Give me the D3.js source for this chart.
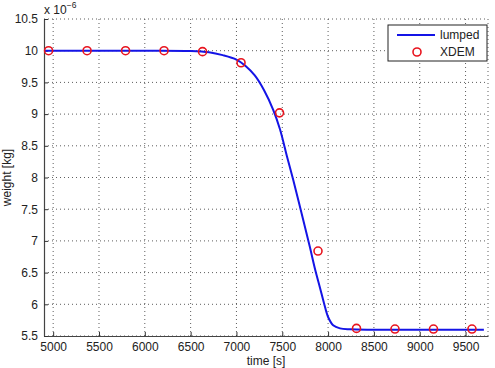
<!DOCTYPE html>
<html>
<head>
<meta charset="utf-8">
<script src="https://cdn.jsdelivr.net/npm/d3@7"></script>
<style>
  body { margin: 0; background: #fff; }
  svg { display: block; font-family: "Liberation Sans", Arial, sans-serif; }
  .tick text { font-size: 12px; fill: #222; }
</style>
</head>
<body>
<div id="chart"></div>
<script>
// XDEM samples (time [s], weight [1e-6 kg])
const xdemTime = [4950, 5370, 5790, 6210, 6630, 7050, 7470, 7890, 8310, 8730, 9150, 9570];
const xdemWeight = [10.0, 10.0, 10.0, 10.0, 9.985, 9.81, 9.02, 6.84, 5.62, 5.61, 5.61, 5.61];

// lumped model curve
const lumpedTime = [4900, 5500, 6000, 6500, 6700, 6850, 7000, 7100, 7200, 7300, 7400, 7475, 7550, 7620, 7710, 7800, 7860, 7910, 7955, 8000, 8055, 8130, 8240, 8500, 9000, 9700];
const lumpedWeight = [10.0, 10.0, 10.0, 9.995, 9.975, 9.93, 9.86, 9.76, 9.61, 9.38, 9.07, 8.76, 8.34, 7.96, 7.44, 6.91, 6.54, 6.27, 6.02, 5.8, 5.67, 5.62, 5.605, 5.6, 5.6, 5.6];

const xTicks = [5000, 5500, 6000, 6500, 7000, 7500, 8000, 8500, 9000, 9500];
const yTicks = [5.5, 6, 6.5, 7, 7.5, 8, 8.5, 9, 9.5, 10, 10.5];

const margin = { top: 19, right: 7, bottom: 32, left: 44 };
const W = 495, H = 368;
const width = W - margin.left - margin.right;
const height = H - margin.top - margin.bottom;

const svg = d3.select('#chart').append('svg')
    .attr('width', W)
    .attr('height', H);

const g = svg.append('g')
    .attr('transform', `translate(${margin.left}, ${margin.top})`);

const x = d3.scaleLinear().domain([4900, 9745]).range([0, width]);
const y = d3.scaleLinear().domain([5.5, 10.5]).range([height, 0]);

// grid
g.append('g').selectAll('line')
    .data(xTicks).enter().append('line')
    .attr('x1', d => x(d)).attr('x2', d => x(d))
    .attr('y1', 0).attr('y2', height)
    .attr('stroke', '#333').attr('stroke-dasharray', '1,3').attr('stroke-width', 0.8);
g.append('g').selectAll('line')
    .data(yTicks).enter().append('line')
    .attr('x1', 0).attr('x2', width)
    .attr('y1', d => y(d)).attr('y2', d => y(d))
    .attr('stroke', '#333').attr('stroke-dasharray', '1,3').attr('stroke-width', 0.8);
// right edge dotted
g.append('line')
    .attr('x1', width).attr('x2', width).attr('y1', 0).attr('y2', height)
    .attr('stroke', '#333').attr('stroke-dasharray', '1,3').attr('stroke-width', 0.8);

// axes (ticks inward)
const xAxis = g.append('g')
    .attr('transform', `translate(0, ${height})`)
    .call(d3.axisBottom(x).tickValues(xTicks).tickSizeInner(-4).tickSizeOuter(0).tickPadding(6).tickFormat(d3.format('d')));
const yAxis = g.append('g')
    .call(d3.axisLeft(y).tickValues(yTicks).tickSizeInner(-4).tickSizeOuter(0).tickPadding(6).tickFormat(d => d3.format('')(d)));
[xAxis, yAxis].forEach(a => {
    a.select('.domain').attr('stroke', '#444').attr('stroke-width', 1.2);
    a.selectAll('.tick line').attr('stroke', '#333');
});

// lumped curve
const line = d3.line()
    .x((d, i) => x(lumpedTime[i]))
    .y(d => y(d))
    .curve(d3.curveCatmullRom.alpha(0.5));
g.append('path')
    .datum(lumpedWeight)
    .attr('d', line)
    .attr('fill', 'none')
    .attr('stroke', '#1414e6')
    .attr('stroke-width', 2);

// XDEM markers
g.selectAll('.xdem')
    .data(xdemWeight).enter().append('circle')
    .attr('class', 'xdem')
    .attr('cx', (d, i) => x(xdemTime[i]))
    .attr('cy', d => y(d))
    .attr('r', 4)
    .attr('fill', 'none')
    .attr('stroke', '#e8141e')
    .attr('stroke-width', 1.6);

// axis labels
svg.append('text')
    .attr('x', margin.left + width / 2)
    .attr('y', 365)
    .attr('text-anchor', 'middle')
    .attr('font-size', 12)
    .attr('fill', '#222')
    .text('time [s]');

svg.append('text')
    .attr('transform', `translate(11, ${margin.top + height / 2}) rotate(-90)`)
    .attr('text-anchor', 'middle')
    .attr('font-size', 12)
    .attr('fill', '#222')
    .text('weight [kg]');

// exponent label
const expo = svg.append('text')
    .attr('x', 44)
    .attr('y', 14)
    .attr('font-size', 12)
    .attr('fill', '#222');
expo.append('tspan').text('x 10');
expo.append('tspan').attr('dy', -6).attr('font-size', 8.5).text('−6');

// legend
const leg = svg.append('g').attr('transform', 'translate(388, 25)');
leg.append('rect')
    .attr('width', 99).attr('height', 36)
    .attr('fill', '#fff').attr('stroke', '#222').attr('stroke-width', 1);
leg.append('line')
    .attr('x1', 9).attr('x2', 47).attr('y1', 10).attr('y2', 10)
    .attr('stroke', '#1414e6').attr('stroke-width', 2);
leg.append('text')
    .attr('x', 52).attr('y', 14)
    .attr('font-size', 12).attr('fill', '#222')
    .text('lumped');
leg.append('circle')
    .attr('cx', 29).attr('cy', 27).attr('r', 4)
    .attr('fill', 'none').attr('stroke', '#e8141e').attr('stroke-width', 1.6);
leg.append('text')
    .attr('x', 52).attr('y', 31)
    .attr('font-size', 12).attr('fill', '#222')
    .text('XDEM');
</script>
</body>
</html>
